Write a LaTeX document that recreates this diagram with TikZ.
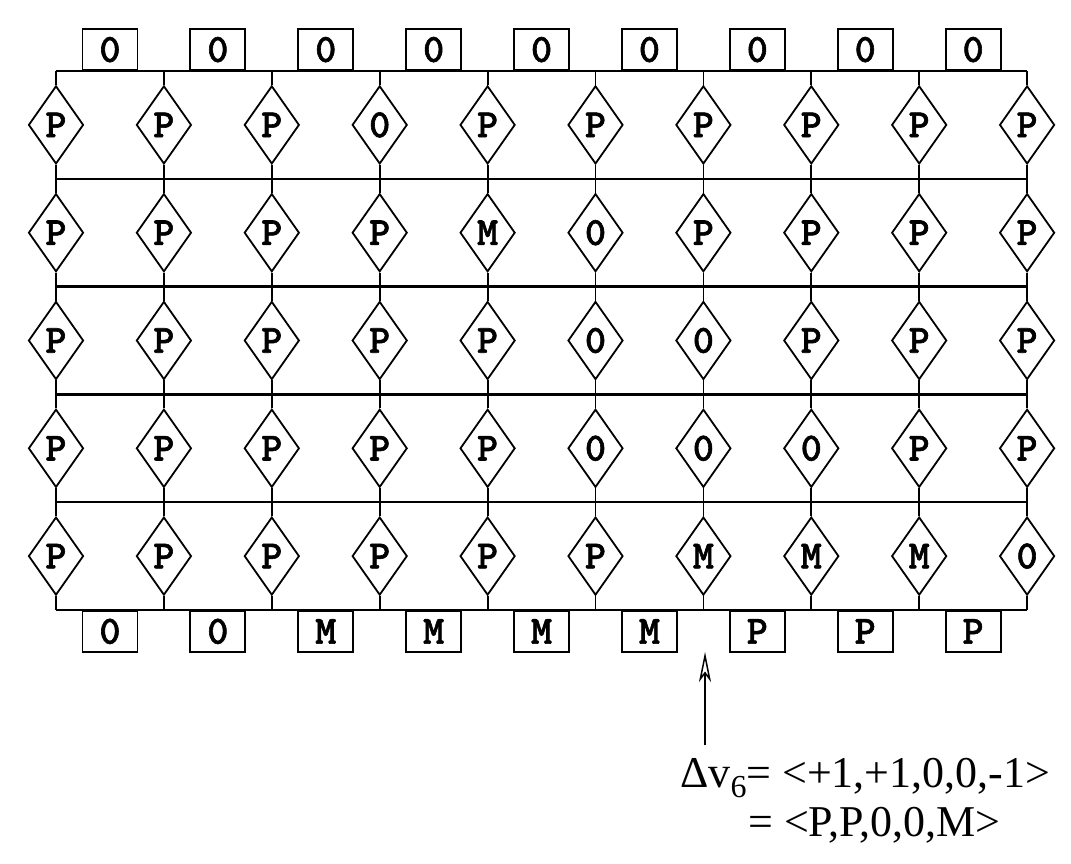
\documentclass[tikz,border=0pt]{standalone}
\usepackage{fontspec}
\setmainfont{Liberation Serif}
\newfontfamily\monofam{lmmonolt10-bold.otf}[FakeBold=1.5]
\usetikzlibrary{shapes.geometric,arrows.meta}
\begin{document}
\begin{tikzpicture}[x=1pt,y=-1pt,
  cell/.style={diamond, draw, line width=1.8pt, minimum width=55pt, minimum height=78pt, inner sep=0pt,
    font=\monofam\fontsize{40}{40}\selectfont},
  valbox/.style={rectangle, draw, line width=1.8pt, minimum width=55pt, minimum height=41pt, inner sep=0pt,
    font=\monofam\fontsize{40}{40}\selectfont},
  bus/.style={line width=2.5pt},
  stem/.style={line width=1.8pt},
  lbl/.style={anchor=base west, inner sep=0pt, font=\fontsize{44}{44}\selectfont}]
\useasboundingbox (0,0) rectangle (1071,864);
% horizontal lines (row separators)
\foreach \k [evaluate=\k as \yy using 71+107.8*\k] in {0,...,5}{
  \coordinate (L\k s) at (56,\yy);
  \coordinate (L\k e) at (1027,\yy);
  \draw[bus] (L\k s) -- (L\k e);
}
% diamonds
\foreach \r/\vals in {1/{P,P,P,0,P,P,P,P,P,P},
                      2/{P,P,P,P,M,0,P,P,P,P},
                      3/{P,P,P,P,P,0,0,P,P,P},
                      4/{P,P,P,P,P,0,0,0,P,P},
                      5/{P,P,P,P,P,P,M,M,M,0}}{
  \foreach \v [count=\c] in \vals {
    \pgfmathsetmacro{\xx}{56+107.9*(\c-1)}
    \pgfmathsetmacro{\yy}{71+107.8*(\r-0.5)}
    \node[cell] (d-\r-\c) at (\xx,\yy) {\v};
    \pgfmathtruncatemacro{\up}{\r-1}
    \draw[stem] (d-\r-\c.north) -- (d-\r-\c.north |- L\up s);
    \draw[stem] (d-\r-\c.south) -- (d-\r-\c.south |- L\r s);
  }
}
% top boxes
\foreach \c in {1,...,9}{
  \pgfmathsetmacro{\xx}{56+107.9*(\c-0.5)}
  \node[valbox, anchor=south] (t-\c) at (\xx,71) {0};
}
% bottom boxes
\foreach \v [count=\c] in {0,0,M,M,M,M,P,P,P}{
  \pgfmathsetmacro{\xx}{56+107.9*(\c-0.5)}
  \node[valbox, anchor=north] (b-\c) at (\xx,610) {\v};
}
% arrow and label
\coordinate (atail) at (705,745);
\coordinate (atip) at (705,652);
\draw[line width=1.2pt, -{Stealth[open, length=30pt, width=12pt, inset=8pt, line width=1.5pt]}] (atail) -- (atip);
\node[lbl] (eq1) at (680,787) {Δv\raisebox{-10pt}{\fontsize{32}{32}\selectfont 6}= <+1,+1,0,0,-1>};
\node[lbl] (eq2) at (748,836) {= <P,P,0,0,M>};
\end{tikzpicture}
\end{document}
